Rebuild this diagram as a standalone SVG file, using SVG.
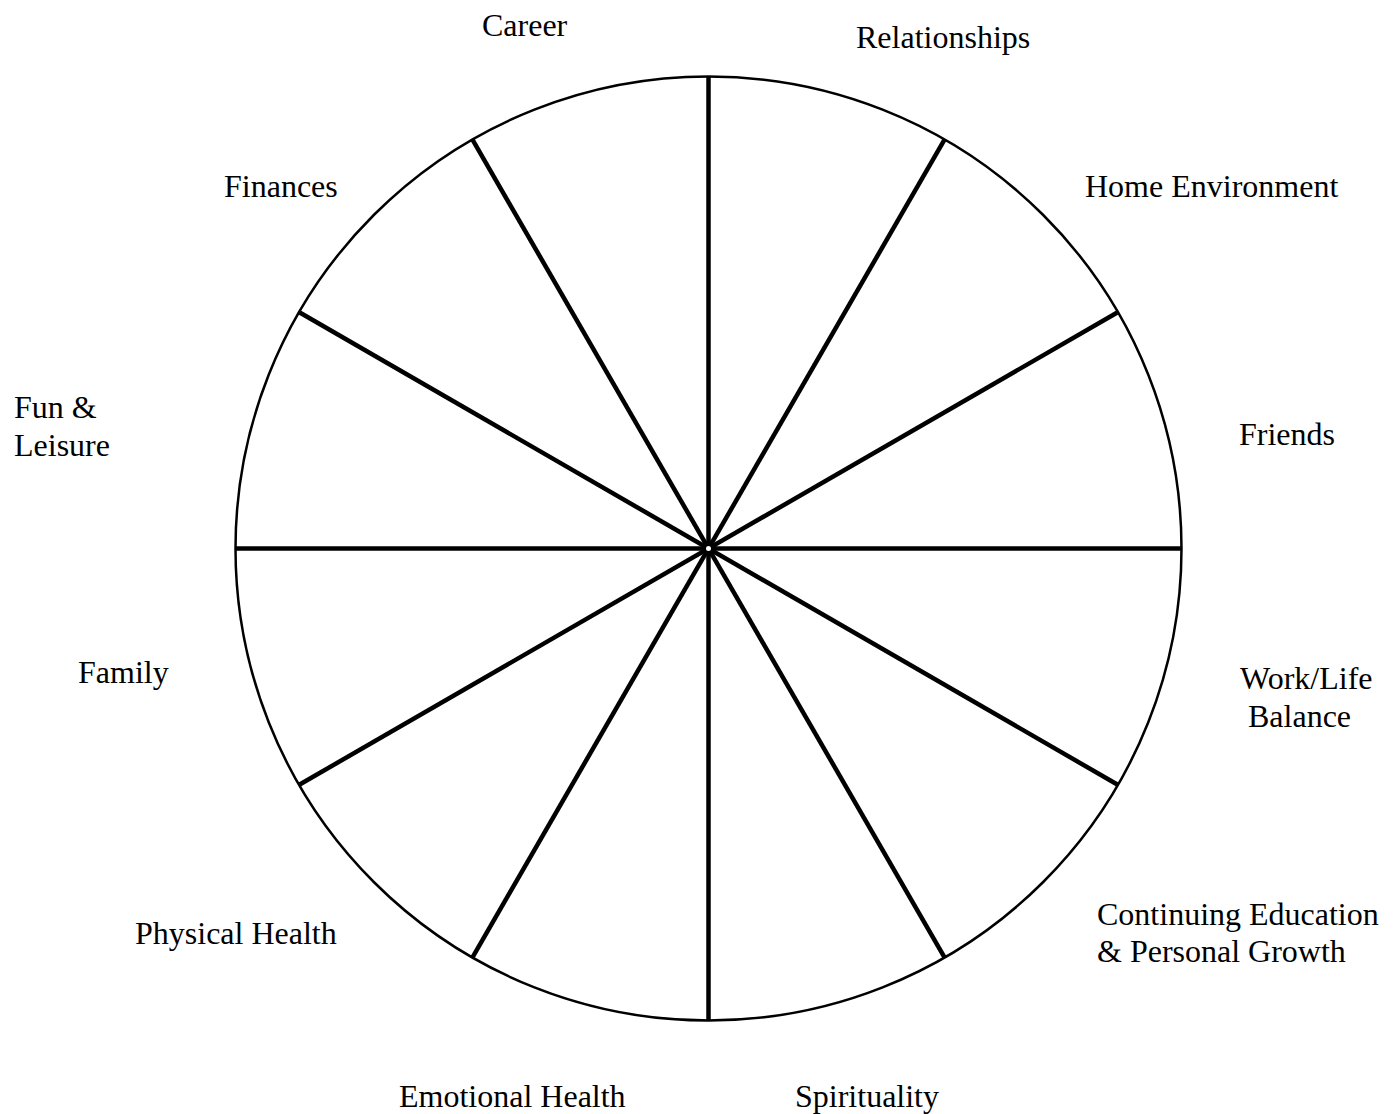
<svg xmlns="http://www.w3.org/2000/svg" width="1395" height="1114" viewBox="0 0 1395 1114">
<style>
.lbl{font-family:"Liberation Serif","Times New Roman",serif;font-size:32px;fill:#000}
.spoke{stroke:#000;stroke-width:4.5;fill:none}
</style>
<rect width="1395" height="1114" fill="#fff"/>
<g id="wheel">
<ellipse cx="708.5" cy="548.5" rx="473" ry="472" fill="none" stroke="#000" stroke-width="2.5"/>
</g>
<g id="connectors">
<line class="spoke" x1="708.5" y1="76.5" x2="708.5" y2="1020.5"/>
<line class="spoke" x1="235.5" y1="548.5" x2="1181.5" y2="548.5"/>
<line class="spoke" x1="472.5" y1="139.7" x2="944.5" y2="957.3"/>
<line class="spoke" x1="944.5" y1="139.7" x2="472.5" y2="957.3"/>
<line class="spoke" x1="299.7" y1="312.5" x2="1117.3" y2="784.5"/>
<line class="spoke" x1="1117.3" y1="312.5" x2="299.7" y2="784.5"/>
</g>
<g id="hub">
<circle cx="708.5" cy="548.5" r="3.5" fill="#fff" stroke="#000" stroke-width="2"/>
</g>
<g id="label-career"><text class="lbl" x="482" y="36">Career</text></g>
<g id="label-relationships"><text class="lbl" x="856" y="48">Relationships</text></g>
<g id="label-finances"><text class="lbl" x="224" y="197">Finances</text></g>
<g id="label-home"><text class="lbl" x="1085" y="197">Home Environment</text></g>
<g id="label-fun"><text class="lbl" x="14" y="418">Fun &amp;</text><text class="lbl" x="14" y="456">Leisure</text></g>
<g id="label-friends"><text class="lbl" x="1239" y="445">Friends</text></g>
<g id="label-family"><text class="lbl" x="78" y="683">Family</text></g>
<g id="label-worklife"><text class="lbl" x="1240" y="689">Work/Life</text><text class="lbl" x="1248" y="727">Balance</text></g>
<g id="label-physical"><text class="lbl" x="135" y="944">Physical Health</text></g>
<g id="label-education"><text class="lbl" x="1097" y="925">Continuing Education</text><text class="lbl" x="1097" y="962">&amp; Personal Growth</text></g>
<g id="label-emotional"><text class="lbl" x="399" y="1107">Emotional Health</text></g>
<g id="label-spirituality"><text class="lbl" x="795" y="1107">Spirituality</text></g>
</svg>
